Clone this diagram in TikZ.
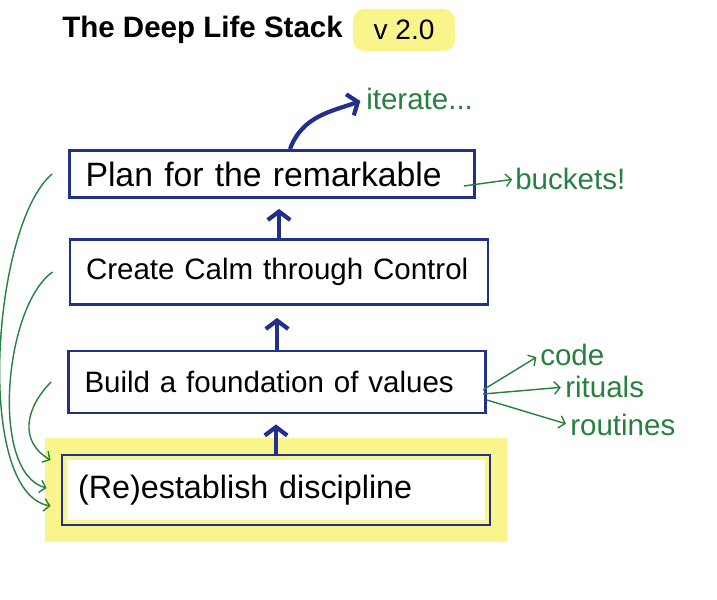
\documentclass[tikz,border=0pt]{standalone}
\usepackage{fontspec}
\setmainfont{Liberation Sans}
\usetikzlibrary{arrows.meta,positioning}

\definecolor{stackblue}{RGB}{32,48,140}
\definecolor{notegreen}{RGB}{40,128,62}
\definecolor{hlyellow}{RGB}{249,244,140}

\tikzset{
  layer/.style={draw=stackblue, line width=2pt, fill=white, inner xsep=0.4cm, inner ysep=0pt,
    align=left, font=\fontsize{21}{25}\selectfont},
  liftarrow/.style={draw=stackblue, line width=3pt, -{Straight Barb[length=6pt,width=16pt]}},
  note/.style={text=notegreen, anchor=west, inner sep=0pt, font=\fontsize{21}{25}\selectfont},
  notearrow/.style={draw=notegreen, line width=1pt, -{Straight Barb[length=4pt,width=9pt]}},
}

\begin{document}
\begin{tikzpicture}

\useasboundingbox (0,0) rectangle (17.925,14.975);

% Title
\node[anchor=west, inner sep=0pt, font=\bfseries\fontsize{21}{25}\selectfont] (title) at (1.55,14.225) {The Deep Life Stack};
\node[fill=hlyellow, rounded corners=8pt, minimum width=2.55cm, minimum height=1.05cm,
  font=\fontsize{20}{24}\selectfont] (version) at (10.1,14.225) {v 2.0};

%-------------------------------------------------
% Stack layers
%-------------------------------------------------

\node[layer, text width=9.325cm, minimum height=1.175cm, font=\fontsize{24}{28}\selectfont] (plan) at (6.8,10.625) {Plan for the remarkable};
\node[layer, text width=9.65cm, minimum height=1.625cm] (create) at (6.975,8.175) {Create Calm through Control};
\node[layer, text width=9.625cm, minimum height=1.55cm] (build) at (6.925,5.425) {Build a foundation of values};
\node[layer, text width=9.9cm, minimum height=1.75cm, font=\fontsize{23}{27}\selectfont,
  preaction={draw=hlyellow, line width=24pt, rounded corners=6pt},
  postaction={draw=hlyellow, line width=7pt},
  postaction={draw=stackblue, line width=2pt}] (disc) at (6.9,2.725) {(Re)establish discipline};

% Arrows up the stack
\draw[liftarrow, shorten >=0.25cm] (disc.north) -- (disc.north |- build.south);
\draw[liftarrow, shorten >=0.3cm] (build.north) -- (build.north |- create.south);
\draw[liftarrow, shorten >=0.25cm] (create.north) -- (create.north |- plan.south);

%-------------------------------------------------
% Notes
%-------------------------------------------------

\node[note] (iterate) at (9.15,12.5) {iterate...};
\node[note] (buckets) at (12.875,10.5) {buckets!};
\node[note] (code) at (13.5,6.1) {code};
\node[note] (rituals) at (14.125,5.3) {rituals};
\node[note] (routines) at (14.25,4.35) {routines};

\draw[liftarrow, shorten >=0.15cm] ([xshift=0.45cm]plan.north) to[out=70, in=200] (iterate.west);
\draw[notearrow, shorten >=2pt] ([xshift=-0.3cm,yshift=-0.3cm]plan.east) -- (buckets.west);

\draw[notearrow, shorten >=3pt] ([xshift=-0.1cm,yshift=-0.2cm]build.east) -- (code.west);
\draw[notearrow, shorten >=3pt] ([xshift=-0.1cm,yshift=-0.3cm]build.east) -- (rituals.west);
\draw[notearrow, shorten >=3pt] ([yshift=-0.45cm]build.east) -- (routines.west);

% Loops back down to discipline
\draw[notearrow] ([xshift=-0.4cm]plan.west) to[out=220, in=170, looseness=0.6] ([xshift=-0.25cm,yshift=-0.4cm]disc.west);
\draw[notearrow] ([xshift=-0.4cm]create.west) to[out=215, in=165, looseness=0.7] ([xshift=-0.35cm,yshift=0.05cm]disc.west);
\draw[notearrow] ([xshift=-0.4cm]build.west) to[out=225, in=150, looseness=1.2] ([xshift=-0.25cm,yshift=0.75cm]disc.west);

\end{tikzpicture}
\end{document}
